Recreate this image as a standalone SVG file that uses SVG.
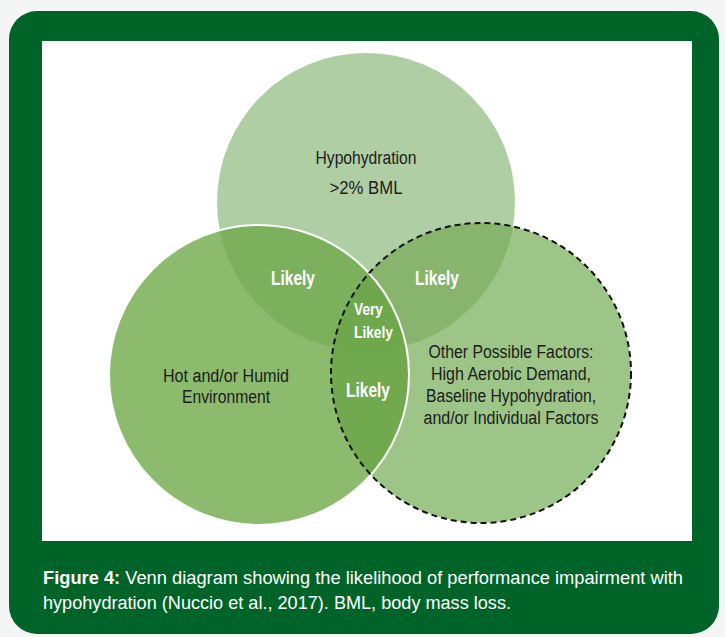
<svg xmlns="http://www.w3.org/2000/svg" width="725" height="637" viewBox="0 0 725 637">
<style>
.t{font-family:"Liberation Sans",Arial,sans-serif;}
.lab{font-size:18px;fill:#1c1c1c;text-anchor:middle;}
.lk{font-size:20px;font-weight:bold;fill:#ffffff;}
.cap{font-size:18px;fill:#ffffff;}
</style>
<defs>
<clipPath id="cT"><circle cx="366" cy="202" r="149"/></clipPath>
<clipPath id="cL"><circle cx="259" cy="375" r="150"/></clipPath>
<clipPath id="cR"><circle cx="481" cy="373" r="150"/></clipPath>
</defs>
<rect x="0" y="0" width="725" height="637" fill="#f4f6f5"/>
<rect x="9" y="11" width="710" height="623" rx="28" ry="28" fill="#006428"/>
<rect x="42" y="41" width="650" height="500" fill="#ffffff"/>
<g id="hypohydration">
<circle cx="366" cy="202" r="149" fill="#afcea3"/>
</g>
<g id="other-factors">
<circle cx="481" cy="373" r="150" fill="#9dc587"/>
</g>
<g id="hot-humid">
<circle cx="259" cy="375" r="150" fill="#8dbb6d"/>
</g>
<g id="overlaps">
<circle cx="259" cy="375" r="150" fill="#7bb05d" clip-path="url(#cT)"/>
<circle cx="481" cy="373" r="150" fill="#87b56d" clip-path="url(#cT)"/>
<circle cx="481" cy="373" r="150" fill="#70a94e" clip-path="url(#cL)"/>
<g clip-path="url(#cT)"><circle cx="481" cy="373" r="150" fill="#6fa84c" clip-path="url(#cL)"/></g>
</g>
<g id="outlines">
<circle cx="259" cy="375" r="150" fill="none" stroke="#ffffff" stroke-width="2"/>
<circle cx="481" cy="373" r="150" fill="none" stroke="#111111" stroke-width="2" stroke-dasharray="6 4"/>
</g>
<g id="labels" class="t">
<text class="lab" x="366" y="164" textLength="101" lengthAdjust="spacingAndGlyphs">Hypohydration</text>
<text class="lab" x="366" y="194" textLength="73" lengthAdjust="spacingAndGlyphs">&gt;2% BML</text>
<text class="lab" x="226" y="382" textLength="126" lengthAdjust="spacingAndGlyphs">Hot and/or Humid</text>
<text class="lab" x="226" y="403" textLength="88" lengthAdjust="spacingAndGlyphs">Environment</text>
<text class="lab" x="511" y="358" textLength="165" lengthAdjust="spacingAndGlyphs">Other Possible Factors:</text>
<text class="lab" x="511" y="380" textLength="160" lengthAdjust="spacingAndGlyphs">High Aerobic Demand,</text>
<text class="lab" x="511" y="402" textLength="170" lengthAdjust="spacingAndGlyphs">Baseline Hypohydration,</text>
<text class="lab" x="511" y="424" textLength="175" lengthAdjust="spacingAndGlyphs">and/or Individual Factors</text>
<text class="lk" x="293" y="285" text-anchor="middle" textLength="44" lengthAdjust="spacingAndGlyphs">Likely</text>
<text class="lk" x="437" y="285" text-anchor="middle" textLength="44" lengthAdjust="spacingAndGlyphs">Likely</text>
<text class="lk" x="354" y="315" style="font-size:17px" textLength="29" lengthAdjust="spacingAndGlyphs">Very</text>
<text class="lk" x="354" y="338" style="font-size:17px" textLength="39" lengthAdjust="spacingAndGlyphs">Likely</text>
<text class="lk" x="368" y="397" text-anchor="middle" textLength="44" lengthAdjust="spacingAndGlyphs">Likely</text>
</g>
<g id="caption" class="t">
<text class="cap" x="43" y="584" textLength="640" lengthAdjust="spacingAndGlyphs"><tspan font-weight="bold">Figure 4:</tspan> Venn diagram showing the likelihood of performance impairment with</text>
<text class="cap" x="43" y="609" textLength="468" lengthAdjust="spacingAndGlyphs">hypohydration (Nuccio et al., 2017). BML, body mass loss.</text>
</g>
</svg>
